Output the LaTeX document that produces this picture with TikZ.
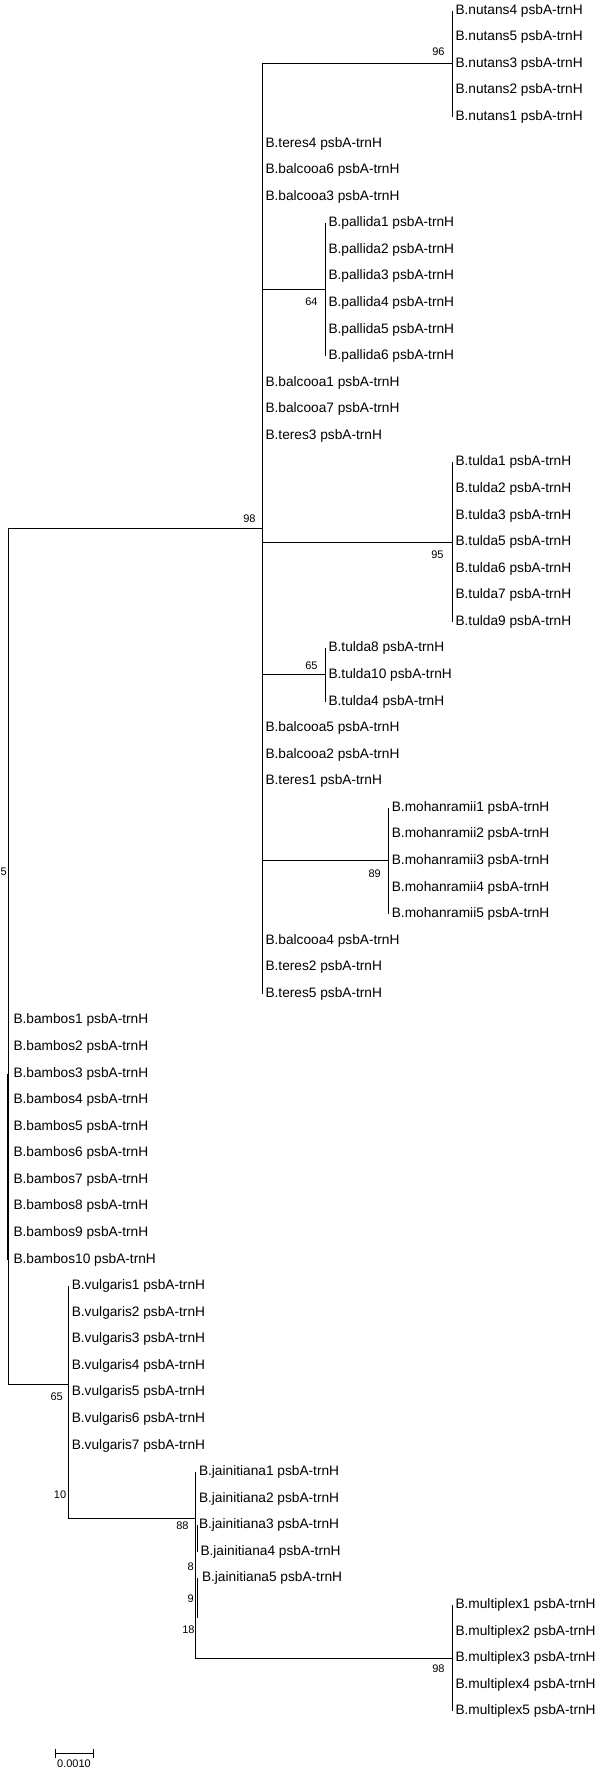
\documentclass[tikz,border=0pt]{standalone}
\usepackage{fontspec}
\setmainfont{Liberation Sans}
\begin{document}
\begin{tikzpicture}[x=1pt,y=-1pt,line width=1pt]
\tikzset{tip/.style={anchor=west,inner sep=0pt,font=\fontsize{13.7}{14}\selectfont},
         boot/.style={anchor=east,inner sep=0pt,font=\fontsize{11}{11}\selectfont}}
\def\yo{10.7} \def\dy{26.57}
\useasboundingbox (0,0) rectangle (598,1772);
%=============================== tips
\foreach \nm [count=\k from 0] in {nutans4,nutans5,nutans3,nutans2,nutans1}
  \node[tip] (\nm) at (455,{\yo+\dy*\k}) {B.\nm\ psbA-trnH};
\foreach \nm [count=\k from 5] in {teres4,balcooa6,balcooa3}
  \node[tip] (\nm) at (265,{\yo+\dy*\k}) {B.\nm\ psbA-trnH};
\foreach \nm [count=\k from 8] in {pallida1,pallida2,pallida3,pallida4,pallida5,pallida6}
  \node[tip] (\nm) at (328,{\yo+\dy*\k}) {B.\nm\ psbA-trnH};
\foreach \nm [count=\k from 14] in {balcooa1,balcooa7,teres3}
  \node[tip] (\nm) at (265,{\yo+\dy*\k}) {B.\nm\ psbA-trnH};
\foreach \nm [count=\k from 17] in {tulda1,tulda2,tulda3,tulda5,tulda6,tulda7,tulda9}
  \node[tip] (\nm) at (455,{\yo+\dy*\k}) {B.\nm\ psbA-trnH};
\foreach \nm [count=\k from 24] in {tulda8,tulda10,tulda4}
  \node[tip] (\nm) at (328,{\yo+\dy*\k}) {B.\nm\ psbA-trnH};
\foreach \nm [count=\k from 27] in {balcooa5,balcooa2,teres1}
  \node[tip] (\nm) at (265,{\yo+\dy*\k}) {B.\nm\ psbA-trnH};
\foreach \nm [count=\k from 30] in {mohanramii1,mohanramii2,mohanramii3,mohanramii4,mohanramii5}
  \node[tip] (\nm) at (391.3,{\yo+\dy*\k}) {B.\nm\ psbA-trnH};
\foreach \nm [count=\k from 35] in {balcooa4,teres2,teres5}
  \node[tip] (\nm) at (265,{\yo+\dy*\k}) {B.\nm\ psbA-trnH};
\foreach \nm [count=\k from 38] in {bambos1,bambos2,bambos3,bambos4,bambos5,bambos6,bambos7,bambos8,bambos9,bambos10}
  \node[tip] (\nm) at (13,{\yo+\dy*\k}) {B.\nm\ psbA-trnH};
\foreach \nm [count=\k from 48] in {vulgaris1,vulgaris2,vulgaris3,vulgaris4,vulgaris5,vulgaris6,vulgaris7}
  \node[tip] (\nm) at (71.3,{\yo+\dy*\k}) {B.\nm\ psbA-trnH};
\foreach \nm/\sh [count=\k from 55] in {jainitiana1/0,jainitiana2/0,jainitiana3/0,jainitiana4/1.5,jainitiana5/3}
  \node[tip] (\nm) at ({198.5+\sh},{\yo+\dy*\k}) {B.\nm\ psbA-trnH};
\foreach \nm [count=\k from 60] in {multiplex1,multiplex2,multiplex3,multiplex4,multiplex5}
  \node[tip] (\nm) at (455,{\yo+\dy*\k}) {B.\nm\ psbA-trnH};
%=============================== inner nodes
\coordinate (nNut) at (452,{\yo+2*\dy});
\coordinate (nPal) at (325,{\yo+10.5*\dy});
\coordinate (nTul) at (452,{\yo+20*\dy});
\coordinate (nTulb) at (325,{\yo+25*\dy});
\coordinate (nMoh) at (388.3,{\yo+32*\dy});
\coordinate (nTop) at (262,{\yo+19.5*\dy});
\coordinate (nRoot) at (8.5,{\yo+32*\dy});
\coordinate (nBam) at (7,{\yo+43.5*\dy});
\coordinate (nVul) at (68.3,{\yo+51.6875*\dy});
\coordinate (nTen) at (68.3,{\yo+55.375*\dy});
\coordinate (nJai) at (195.5,{\yo+56.75*\dy});
\coordinate (nEig) at (197,{\yo+58.5*\dy});
\coordinate (nNin) at (197,{\yo+59.5*\dy});
\coordinate (nEtn) at (197,{\yo+60.5*\dy});
\coordinate (nMul) at (452,{\yo+62*\dy});
%=============================== branches
\draw (nTop) -| (nRoot) |- (nVul);
\draw (nNut) -| ([xshift=-3pt]teres5.west);
\draw (nTop |- nPal) -- (nPal);
\draw (nTop |- nTul) -- (nTul);
\draw (nTop |- nTulb) -- (nTulb);
\draw (nTop |- nMoh) -- (nMoh);
\draw ([xshift=-3pt]nutans4.west) -- ([xshift=-3pt]nutans1.west);
\draw ([xshift=-3pt]pallida1.west) -- ([xshift=-3pt]pallida6.west);
\draw ([xshift=-3pt]tulda1.west) -- ([xshift=-3pt]tulda9.west);
\draw ([xshift=-3pt]tulda8.west) -- ([xshift=-3pt]tulda4.west);
\draw ([xshift=-3pt]mohanramii1.west) -- ([xshift=-3pt]mohanramii5.west);
\draw (nBam |- bambos3.west) -- (nBam |- bambos10.west);
\draw ([xshift=-3pt]vulgaris1.west) |- (nJai);
\draw ([xshift=-3pt]jainitiana1.west) |- (nMul);
\draw (nEig |- jainitiana3.west) -- (nEig |- jainitiana4.west);
\draw (nNin |- jainitiana5.west) -- (nEtn);
\draw ([xshift=-3pt]multiplex1.west) -- ([xshift=-3pt]multiplex5.west);
%=============================== bootstrap values
\node[boot] (b96) at ([shift={(-7,-12)}]nNut) {96};
\node[boot] (b98) at ([shift={(-6,-10.5)}]nTop) {98};
\node[boot] (b64) at ([shift={(-7,12)}]nPal) {64};
\node[boot] (b95) at ([shift={(-8,13)}]nTul) {95};
\node[boot] (b65) at ([shift={(-7,-9.3)}]nTulb) {65};
\node[boot] (b89) at ([shift={(-7,13)}]nMoh) {89};
\node[boot] (b5) at ([shift={(-1.2,11)}]nRoot) {5};
\node[boot] (b65v) at ([shift={(-5,12.7)}]nVul) {65};
\node[boot] (b10) at ([shift={(-1.6,13)}]nTen) {10};
\node[boot] (b88) at ([shift={(-6.5,7)}]nJai) {88};
\node[boot] (b8) at ([shift={(-2.7,2)}]nEig) {8};
\node[boot] (b9) at ([shift={(-2.7,7)}]nNin) {9};
\node[boot] (b18) at ([shift={(-2,12)}]nEtn) {18};
\node[boot] (b98m) at ([shift={(-7,11)}]nMul) {98};
%=============================== scale bar
\coordinate (sbA) at (55,1753);
\coordinate (sbB) at (93.3,1753);
\draw (sbA) -- (sbB);
\draw ([yshift=4.5pt]sbA) -- ([yshift=-4.5pt]sbA);
\draw ([yshift=4.5pt]sbB) -- ([yshift=-4.5pt]sbB);
\node[boot,anchor=center] (sbT) at (74,1764) {0.0010};
\end{tikzpicture}
\end{document}
